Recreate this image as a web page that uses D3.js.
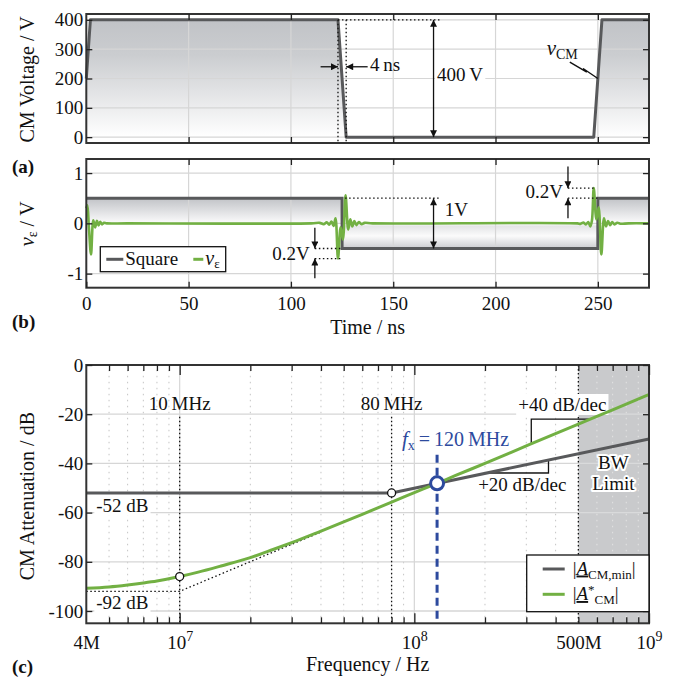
<!DOCTYPE html>
<html>
<head>
<meta charset="utf-8">
<script src="https://cdn.jsdelivr.net/npm/d3@7"></script>
<style>
  body { margin: 0; background: #fff; }
  svg { display: block; font-family: "Liberation Serif", "Times New Roman", serif; }
</style>
</head>
<body>
<svg width="673" height="681"></svg>
<script>
// ---- data ----
var timeTicks = [50, 100, 150, 200, 250]
var timeLabels = [0, 50, 100, 150, 200, 250]
var cmTicks = [0, 100, 200, 300, 400]
var veTicks = [-1, 0, 1]

// (a) common-mode voltage, trapezoid
var cmTime = [0, 2, 123, 127, 248, 252, 275]
var cmVolt = [200, 400, 400, 0, 0, 400, 400]

// (b) square reference and error voltage
var sqTime = [0, 125, 125, 250, 250, 275]
var sqVolt = [0.5, 0.5, -0.5, -0.5, 0.5, 0.5]
var veTime = [0, 0.5, 1.3, 2.3, 3.4, 4.3, 5.2, 6.0, 6.8, 7.7, 8.6, 10, 20, 110, 114, 116, 117.5, 118.7, 119.8, 120.8, 121.8, 123.0, 124.3, 125.4, 126.7, 128.0, 129.0, 130.0, 131.0, 132.0, 133.2, 134.5, 136, 140, 240, 241.5, 243, 244.2, 245.3, 246.3, 247.1, 248.0, 249.3, 250.4, 251.7, 253.0, 254.0, 255.0, 256.0, 257.0, 258.2, 259.5, 261, 265, 275]
var veVolt = [0.30, 0.36, -0.10, -0.62, 0.06, -0.08, 0.05, -0.04, 0.03, -0.02, 0.01, 0, 0, 0, 0.01, -0.015, 0.02, -0.025, 0.035, -0.05, 0.10, -0.70, -0.08, -0.32, 0.56, -0.12, 0.08, -0.06, 0.045, -0.035, 0.025, -0.015, 0.01, 0, 0, -0.01, 0.015, -0.02, 0.025, -0.06, 0.05, 0.70, 0.08, 0.32, -0.62, 0.10, -0.06, 0.045, -0.035, 0.025, -0.02, 0.012, -0.008, 0, 0]

// (c) attenuation vs frequency
var freqMajor = [1e7, 1e8, 1e9]
var freqMinor = [5e6, 6e6, 7e6, 8e6, 9e6, 2e7, 3e7, 4e7, 5e7, 6e7, 7e7, 8e7, 9e7, 2e8, 3e8, 4e8, 5e8, 6e8, 7e8, 8e8, 9e8]
var freqLabels = [4e6, 1e7, 1e8, 5e8, 1e9]
var freqLabelText = [['4M'], ['10', '7'], ['10', '8'], ['500M'], ['10', '9']]
var attTicks = [0, -20, -40, -60, -80, -100]
var minFreq = [4e6, 8e7, 1e9]
var minAtt = [-52, -52, -30.1]
var cmFreq = [4e6, 5e6, 6e6, 7e6, 8e6, 1e7, 1.2e7, 1.5e7, 2e7, 2.5e7, 3e7, 4e7, 5e7, 6e7, 8e7, 1e8, 1.25e8, 1.5e8, 2e8, 3e8, 5e8, 7e8, 1e9]
var cmAtt = [-90.8, -90.2, -89.4, -88.6, -87.8, -86.0, -84.2, -81.7, -78.3, -75.0, -72.2, -67.5, -63.8, -60.7, -55.7, -51.9, -48.1, -44.9, -40.0, -32.9, -24.0, -18.2, -12.0]
var asymFreq = [4e6, 1e7, 4e7]
var asymAtt = [-92, -92, -67.9]
var cornerFreq = [1e7, 8e7]
var cornerAtt = [-86, -52]
var fxFreq = 1.25e8
var fxAtt = -48.1
var bwFreq = [5e8, 1e9]
var slope40Freq = [3.15e8, 5.62e8]
var slope40Att = [-32.1, -22.0]
var slope20Freq = [2.04e8, 3.73e8]
var slope20Att = [-43.9, -38.6]

// ---- setup ----
var FS = 19
var INK = '#111'
var GRID = '#d6d6d6'
var GRAYLINE = '#58595b'
var GREEN = '#72b043'
var BLUE = '#2d4a9e'

var svg = d3.select('svg')
var defs = svg.append('defs')

defs.append('marker')
  .attr('id', 'ah')
  .attr('viewBox', '0 0 10 10')
  .attr('refX', 10).attr('refY', 5)
  .attr('markerWidth', 9).attr('markerHeight', 7)
  .attr('markerUnits', 'userSpaceOnUse')
  .attr('orient', 'auto-start-reverse')
  .append('path').attr('d', 'M0,0L10,5L0,10z').attr('fill', INK)

var xT = d3.scaleLinear().domain([0, 275]).range([86.3, 649])
var yA = d3.scaleLinear().domain([-20, 420]).range([143, 14])
var yB = d3.scaleLinear().domain([-1.28, 1.28]).range([287.7, 159])
var xF = d3.scaleLog().domain([4e6, 1e9]).range([86.3, 649])
var yC = d3.scaleLinear().domain([-105, 0]).range([623.3, 365])

function grad (id, y1, y2, stops) {
  var g = defs.append('linearGradient').attr('id', id)
    .attr('gradientUnits', 'userSpaceOnUse')
    .attr('x1', 0).attr('x2', 0).attr('y1', y1).attr('y2', y2)
  stops.forEach(function (s) {
    g.append('stop').attr('offset', s[0]).attr('stop-color', s[1])
  })
}
grad('gA', yA(400), yA(0), [[0, '#c1c3c7'], [0.3, '#cbcdd0'], [0.6, '#e1e2e4'], [1, '#ffffff']])
grad('gB', yB(0.5), yB(-0.5), [[0, '#c1c3c7'], [0.45, '#f6f6f7'], [0.5, '#ffffff'], [0.56, '#e4e5e7'], [0.75, '#fbfbfb'], [1, '#cbccd0']])

function ax (g, axis) {
  g.call(axis)
  g.attr('font-family', null).attr('font-size', FS)
  g.select('.domain').remove()
  g.selectAll('.tick line').attr('stroke', '#222').attr('stroke-width', 1.3)
  g.selectAll('.tick text').attr('fill', INK)
}

function label (g, x, y, parts, opt) {
  opt = opt || {}
  var t = g.append('text')
    .attr('x', x).attr('y', y)
    .attr('font-size', opt.size || FS)
    .attr('fill', opt.fill || INK)
    .attr('text-anchor', opt.anchor || 'start')
  if (opt.bold) t.attr('font-weight', 'bold')
  if (opt.rotate) t.attr('transform', 'rotate(-90,' + x + ',' + y + ')')
  parts.forEach(function (p) {
    if (typeof p === 'string') p = { t: p }
    var s = t.append('tspan').text(p.t)
    if (p.it) s.attr('font-style', 'italic')
    if (p.sz) s.attr('font-size', p.sz)
    if (p.dy) s.attr('dy', p.dy)
    if (p.dx) s.attr('dx', p.dx)
    if (p.ul) s.style('text-decoration', 'underline')
  })
  if (opt.halo) {
    t.attr('stroke', '#fff').attr('stroke-width', 4).attr('paint-order', 'stroke').attr('stroke-linejoin', 'round')
  }
  if (opt.bg) {
    var b = t.node().getBBox()
    g.insert('rect', function () { return t.node() })
      .attr('x', b.x - 2).attr('y', b.y).attr('width', b.width + 4).attr('height', b.height)
      .attr('fill', '#fff')
  }
  return t
}

function seg (g, x1, y1, x2, y2, cls) {
  var l = g.append('line').attr('x1', x1).attr('y1', y1).attr('x2', x2).attr('y2', y2)
    .attr('stroke', INK).attr('stroke-width', 1.3)
  if (cls === 'dot') l.attr('stroke-dasharray', '1.5,2.5')
  if (cls === 'end') l.attr('marker-end', 'url(#ah)')
  if (cls === 'both') l.attr('marker-end', 'url(#ah)').attr('marker-start', 'url(#ah)')
  return l
}

function frame (g, x, y) {
  g.append('rect')
    .attr('x', x.range()[0]).attr('y', y.range()[1])
    .attr('width', x.range()[1] - x.range()[0])
    .attr('height', y.range()[0] - y.range()[1])
    .attr('fill', 'none').attr('stroke', '#333').attr('stroke-width', 2)
}

function timeGrid (g, y, hLines) {
  g.selectAll(null).data(timeTicks).join('line')
    .attr('x1', xT).attr('x2', xT).attr('y1', y.range()[0]).attr('y2', y.range()[1])
    .attr('stroke', GRID).attr('stroke-width', 1.2)
  g.selectAll(null).data(hLines).join('line')
    .attr('x1', xT.range()[0]).attr('x2', xT.range()[1]).attr('y1', y).attr('y2', y)
    .attr('stroke', GRID).attr('stroke-width', 1.2)
}

function timeAxes (g, y, yTicks, withLabels) {
  g.append('g').attr('transform', 'translate(0,' + y.range()[0] + ')')
    .call(ax, d3.axisBottom(xT).tickValues(withLabels ? timeLabels : timeTicks).tickSize(-6).tickPadding(9)
      .tickFormat(withLabels ? function (d) { return String(d) } : ''))
  g.append('g').attr('transform', 'translate(0,' + y.range()[1] + ')')
    .call(ax, d3.axisTop(xT).tickValues(timeTicks).tickSize(-6).tickFormat(''))
  g.append('g').attr('transform', 'translate(' + xT.range()[0] + ',0)')
    .call(ax, d3.axisLeft(y).tickValues(yTicks).tickSize(-6).tickPadding(3).tickFormat(function (d) { return String(d) }))
  g.append('g').attr('transform', 'translate(' + xT.range()[1] + ',0)')
    .call(ax, d3.axisRight(y).tickValues(yTicks).tickSize(-6).tickFormat(''))
}

// ================= (a) =================
var gA = svg.append('g')
var idxA = d3.range(cmTime.length)
gA.append('path').datum(idxA)
  .attr('d', d3.area().x(function (i) { return xT(cmTime[i]) }).y0(yA(0)).y1(function (i) { return yA(cmVolt[i]) }))
  .attr('fill', 'url(#gA)')
timeGrid(gA, yA, cmTicks)
gA.append('path').datum(idxA)
  .attr('d', d3.line().x(function (i) { return xT(cmTime[i]) }).y(function (i) { return yA(cmVolt[i]) }))
  .attr('fill', 'none').attr('stroke', GRAYLINE).attr('stroke-width', 3).attr('stroke-linejoin', 'round')

// annotations (a)
seg(gA, xT(123), yA(400), xT(123), yA(-20), 'dot')
seg(gA, xT(127), yA(400), xT(127), yA(-20), 'dot')
seg(gA, xT(123), yA(400), xT(172.7), yA(400), 'dot')
seg(gA, xT(114.5), yA(240), xT(123), yA(240), 'end')
seg(gA, xT(137.5), yA(240), xT(127), yA(240), 'end')
label(gA, xT(138.6), yA(224), ['4\u2009ns'])
seg(gA, xT(169.7), yA(400), xT(169.7), yA(0), 'both')
label(gA, xT(171.4), yA(191), ['400\u2009V'], { bg: true })
label(gA, xT(225), yA(280), [{ t: 'v', it: true, sz: 21 }, { t: 'CM', sz: 14, dy: 4 }])
gA.append('path')
  .attr('d', d3.line()([[xT(236.3), yA(256)], [xT(244.6), yA(222)], [xT(242.8), yA(234)], [xT(250), yA(200)]]))
  .attr('fill', 'none').attr('stroke', INK).attr('stroke-width', 1.4)

frame(gA, xT, yA)
timeAxes(gA, yA, cmTicks, false)
label(gA, 34, (yA.range()[0] + yA.range()[1]) / 2 + 1, ['CM Voltage / V'], { size: 20, anchor: 'middle', rotate: true })
label(gA, 12, 173, ['(a)'], { bold: true, size: 19 })

// ================= (b) =================
var gB = svg.append('g')
var idxS = d3.range(sqTime.length)
var idxV = d3.range(veTime.length)
gB.append('path').datum(idxS)
  .attr('d', d3.area().x(function (i) { return xT(sqTime[i]) }).y0(yB(0)).y1(function (i) { return yB(sqVolt[i]) }))
  .attr('fill', 'url(#gB)')
timeGrid(gB, yB, veTicks)
gB.append('path').datum(idxS)
  .attr('d', d3.line().x(function (i) { return xT(sqTime[i]) }).y(function (i) { return yB(sqVolt[i]) }))
  .attr('fill', 'none').attr('stroke', GRAYLINE).attr('stroke-width', 3)
gB.append('path').datum(idxV)
  .attr('d', d3.line().x(function (i) { return xT(veTime[i]) }).y(function (i) { return yB(veVolt[i]) }).curve(d3.curveCatmullRom.alpha(0.5)))
  .attr('fill', 'none').attr('stroke', GREEN).attr('stroke-width', 2.6).attr('stroke-linejoin', 'round')

// annotations (b)
seg(gB, xT(126.5), yB(0.5), xT(172.7), yB(0.5), 'dot')
seg(gB, xT(169.7), yB(0.5), xT(169.7), yB(-0.5), 'both')
label(gB, xT(175.2), yB(0.15), ['1V'])

seg(gB, xT(111.7), yB(-0.5), xT(125), yB(-0.5), 'dot')
seg(gB, xT(111.7), yB(-0.7), xT(124.8), yB(-0.7), 'dot')
seg(gB, xT(111.7), yB(-0.09), xT(111.7), yB(-0.5), 'end')
seg(gB, xT(111.7), yB(-1.09), xT(111.7), yB(-0.7), 'end')
label(gB, xT(109.2), yB(-0.73), ['0.2V'], { anchor: 'end' })

seg(gB, xT(235.4), yB(0.7), xT(248), yB(0.7), 'dot')
seg(gB, xT(235.4), yB(0.5), xT(250), yB(0.5), 'dot')
seg(gB, xT(235.4), yB(1.13), xT(235.4), yB(0.7), 'end')
seg(gB, xT(235.4), yB(0.1), xT(235.4), yB(0.5), 'end')
label(gB, xT(233), yB(0.5), ['0.2V'], { anchor: 'end' })

frame(gB, xT, yB)
timeAxes(gB, yB, veTicks, true)

// legend (b)
var lgB = gB.append('g').attr('transform', 'translate(' + (xT.range()[0] + 14) + ',' + 246.7 + ')')
lgB.append('rect').attr('width', 125.4).attr('height', 25).attr('fill', '#fff').attr('stroke', INK).attr('stroke-width', 1.3)
lgB.append('line').attr('x1', 6).attr('x2', 23).attr('y1', 12.6).attr('y2', 12.6).attr('stroke', GRAYLINE).attr('stroke-width', 3)
label(lgB, 25, 18.5, ['Square'])
lgB.append('line').attr('x1', 93).attr('x2', 103).attr('y1', 12.6).attr('y2', 12.6).attr('stroke', GREEN).attr('stroke-width', 3)
label(lgB, 105, 18.5, [{ t: 'v', it: true, sz: 20 }, { t: '\u03b5', sz: 13, dy: 3 }])

label(gB, 34, 224, [{ t: 'v', it: true, sz: 21 }, { t: '\u03b5', sz: 14, dy: 3 }, { t: ' / V', dy: -3 }], { size: 20, anchor: 'middle', rotate: true })
label(gB, (xT.range()[0] + xT.range()[1]) / 2, 334, ['Time / ns'], { size: 20, anchor: 'middle' })
label(gB, 12, 328, ['(b)'], { bold: true, size: 19 })

// ================= (c) =================
var gC = svg.append('g')
var yTop = yC.range()[1]
var yBot = yC.range()[0]

// grid
gC.selectAll(null).data(freqMinor).join('line')
  .attr('x1', xF).attr('x2', xF).attr('y1', yBot).attr('y2', yTop)
  .attr('stroke', '#c4c4c4').attr('stroke-width', 1).attr('stroke-dasharray', '1.5,4.5')
gC.selectAll(null).data(freqMajor).join('line')
  .attr('x1', xF).attr('x2', xF).attr('y1', yBot).attr('y2', yTop)
  .attr('stroke', GRID).attr('stroke-width', 1.2)
gC.selectAll(null).data(attTicks.slice(1)).join('line')
  .attr('x1', xF.range()[0]).attr('x2', xF.range()[1]).attr('y1', yC).attr('y2', yC)
  .attr('stroke', GRID).attr('stroke-width', 1.3)

// bandwidth limit region
gC.append('rect')
  .attr('x', xF(bwFreq[0])).attr('y', yTop)
  .attr('width', xF(bwFreq[1]) - xF(bwFreq[0])).attr('height', yBot - yTop)
  .attr('fill', '#c9cacc')
gC.selectAll(null).data(freqMinor.filter(function (f) { return f > bwFreq[0] })).join('line')
  .attr('x1', xF).attr('x2', xF).attr('y1', yBot).attr('y2', yTop)
  .attr('stroke', '#e4e4e4').attr('stroke-width', 1).attr('stroke-dasharray', '1.5,4.5')
gC.selectAll(null).data(attTicks.slice(1)).join('line')
  .attr('x1', xF(bwFreq[0])).attr('x2', xF(bwFreq[1])).attr('y1', yC).attr('y2', yC)
  .attr('stroke', '#d9dadb').attr('stroke-width', 1.3)
seg(gC, xF(bwFreq[0]), yTop, xF(bwFreq[0]), yBot, 'dot')
label(gC, xF(7.05e8), yC(-42.3), ['BW'], { anchor: 'middle', halo: true })
label(gC, xF(7.05e8), yC(-50.8), ['Limit'], { anchor: 'middle', halo: true })

// reference lines
seg(gC, xF(cornerFreq[0]), yC(-21), xF(cornerFreq[0]), yBot, 'dot')
seg(gC, xF(cornerFreq[1]), yC(-21), xF(cornerFreq[1]), yBot, 'dot')
label(gC, xF(cornerFreq[0]), yC(-18.3), ['10\u2009MHz'], { anchor: 'middle' })
label(gC, xF(cornerFreq[1]), yC(-18.3), ['80\u2009MHz'], { anchor: 'middle' })
label(gC, xF.range()[0] + 10, yC(-59.6), ['-52 dB'], { bg: true })
label(gC, xF.range()[0] + 10, yC(-99.1), ['-92 dB'], { bg: true })

var idxAs = d3.range(asymFreq.length)
gC.append('path').datum(idxAs)
  .attr('d', d3.line().x(function (i) { return xF(asymFreq[i]) }).y(function (i) { return yC(asymAtt[i]) }))
  .attr('fill', 'none').attr('stroke', INK).attr('stroke-width', 1.3).attr('stroke-dasharray', '1.5,2.5')

// slope triangles
gC.append('path')
  .attr('d', d3.line()([[xF(slope40Freq[0]), yC(slope40Att[0])], [xF(slope40Freq[0]), yC(slope40Att[1])], [xF(slope40Freq[1]), yC(slope40Att[1])]]))
  .attr('fill', 'none').attr('stroke', INK).attr('stroke-width', 1.3)
gC.append('path')
  .attr('d', d3.line()([[xF(slope20Freq[0]), yC(slope20Att[0])], [xF(slope20Freq[1]), yC(slope20Att[0])], [xF(slope20Freq[1]), yC(slope20Att[1])]]))
  .attr('fill', 'none').attr('stroke', INK).attr('stroke-width', 1.3)
label(gC, xF(2.77e8), yC(-18.7), ['+40 dB/dec'], { bg: true })
label(gC, xF(1.87e8), yC(-51.2), ['+20 dB/dec'], { bg: true })

// blue crossover marker
gC.append('line')
  .attr('x1', xF(fxFreq)).attr('x2', xF(fxFreq)).attr('y1', yC(-36.5)).attr('y2', yBot)
  .attr('stroke', BLUE).attr('stroke-width', 3).attr('stroke-dasharray', '8,5')
label(gC, xF(8.85e7), yC(-32.9), [{ t: 'f', it: true, sz: 21 }, { t: 'x', sz: 14, dy: 4 }, { t: '\u2009=\u2009120\u2009MHz', dy: -4 }], { fill: BLUE, size: 20 })

// curves
var idxM = d3.range(minFreq.length)
var idxC = d3.range(cmFreq.length)
gC.append('path').datum(idxM)
  .attr('d', d3.line().x(function (i) { return xF(minFreq[i]) }).y(function (i) { return yC(minAtt[i]) }))
  .attr('fill', 'none').attr('stroke', GRAYLINE).attr('stroke-width', 3)
gC.append('path').datum(idxC)
  .attr('d', d3.line().x(function (i) { return xF(cmFreq[i]) }).y(function (i) { return yC(cmAtt[i]) }).curve(d3.curveMonotoneX))
  .attr('fill', 'none').attr('stroke', GREEN).attr('stroke-width', 3)

gC.selectAll(null).data(d3.range(cornerFreq.length)).join('circle')
  .attr('cx', function (i) { return xF(cornerFreq[i]) }).attr('cy', function (i) { return yC(cornerAtt[i]) })
  .attr('r', 4).attr('fill', '#fff').attr('stroke', INK).attr('stroke-width', 1.3)
gC.append('circle')
  .attr('cx', xF(fxFreq)).attr('cy', yC(fxAtt)).attr('r', 6.5)
  .attr('fill', '#fff').attr('stroke', BLUE).attr('stroke-width', 3)

// frame + axes (c)
frame(gC, xF, yC)
gC.append('g').attr('transform', 'translate(0,' + yBot + ')')
  .call(ax, d3.axisBottom(xF).tickValues(freqMinor).tickSize(-6).tickFormat(''))
gC.append('g').attr('transform', 'translate(0,' + yBot + ')')
  .call(ax, d3.axisBottom(xF).tickValues(freqMajor).tickSize(-10).tickFormat(''))
gC.append('g').attr('transform', 'translate(0,' + yTop + ')')
  .call(ax, d3.axisTop(xF).tickValues(freqMinor).tickSize(-6).tickFormat(''))
gC.append('g').attr('transform', 'translate(0,' + yTop + ')')
  .call(ax, d3.axisTop(xF).tickValues(freqMajor).tickSize(-10).tickFormat(''))
gC.append('g').attr('transform', 'translate(' + xF.range()[0] + ',0)')
  .call(ax, d3.axisLeft(yC).tickValues(attTicks).tickSize(-6).tickPadding(3).tickFormat(function (d) { return String(d) }))
gC.append('g').attr('transform', 'translate(' + xF.range()[1] + ',0)')
  .call(ax, d3.axisRight(yC).tickValues(attTicks).tickSize(-6).tickFormat(''))

// frequency labels with superscripts
var xl = gC.append('g').attr('transform', 'translate(0,' + yBot + ')')
  .call(ax, d3.axisBottom(xF).tickValues(freqLabels).tickSize(0).tickPadding(12).tickFormat(''))
xl.selectAll('.tick text').each(function (d, i) {
  var t = d3.select(this)
  var parts = freqLabelText[i]
  t.append('tspan').text(parts[0])
  if (parts[1]) t.append('tspan').attr('font-size', 14).attr('dy', -8).text(parts[1])
})

// legend (c)
var lgC = gC.append('g').attr('transform', 'translate(526.7,555)')
lgC.append('rect').attr('width', xF.range()[1] - 526.7).attr('height', 56.7).attr('fill', '#fff').attr('stroke', INK).attr('stroke-width', 1.3)
lgC.append('line').attr('x1', 16).attr('x2', 38).attr('y1', 14).attr('y2', 14).attr('stroke', GRAYLINE).attr('stroke-width', 3)
lgC.append('line').attr('x1', 16).attr('x2', 38).attr('y1', 39.3).attr('y2', 39.3).attr('stroke', GREEN).attr('stroke-width', 3)
label(lgC, 46, 19.5, ['|', { t: 'A', it: true, ul: true }, { t: 'CM,min', sz: 13, dy: 4 }, { t: '|', dy: -4 }])
label(lgC, 46, 45, ['|', { t: 'A', it: true, ul: true }, { t: '*', sz: 13, dy: -6 }, { t: 'CM', sz: 13, dy: 10 }, { t: '|', dy: -4 }])

label(gC, 34, (yTop + yBot) / 2 + 2, ['CM Attenuation / dB'], { size: 20, anchor: 'middle', rotate: true })
label(gC, (xF.range()[0] + xF.range()[1]) / 2, 671, ['Frequency / Hz'], { size: 20, anchor: 'middle' })
label(gC, 12, 673, ['(c)'], { bold: true, size: 19 })
</script>
</body>
</html>
